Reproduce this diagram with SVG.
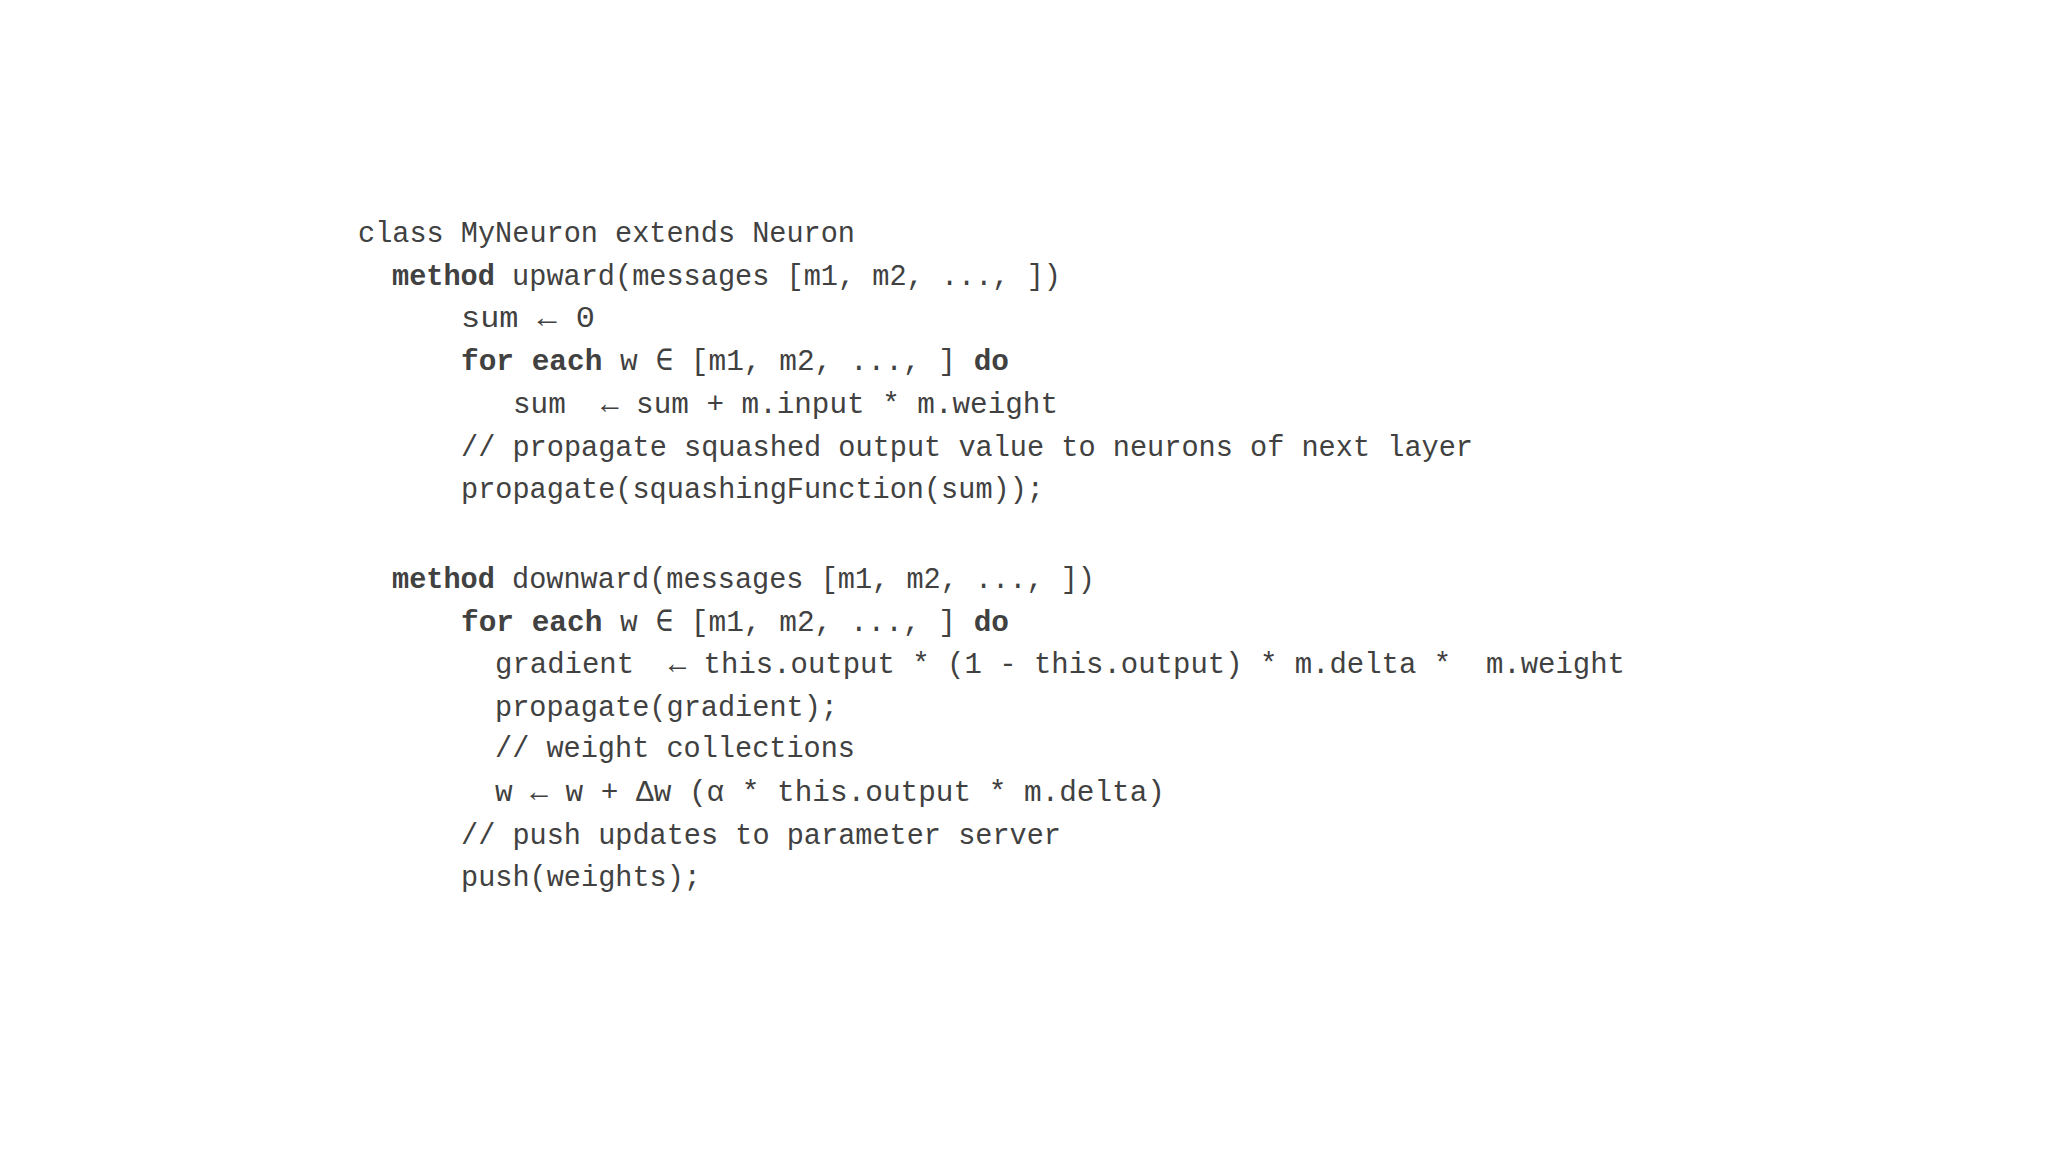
<svg xmlns="http://www.w3.org/2000/svg" width="2048" height="1152" viewBox="0 0 2048 1152">
<style>
text{font-family:"Liberation Mono","DejaVu Sans Mono",monospace;font-size:30px;fill:#414141;white-space:pre}
.b{font-weight:bold}
</style>
<rect width="2048" height="1152" fill="#fff"/>
<g id="code" xml:space="preserve">
<text x="358" y="242" textLength="497" lengthAdjust="spacingAndGlyphs">class MyNeuron extends Neuron</text>
<text x="392" y="285" textLength="669" lengthAdjust="spacingAndGlyphs"><tspan class="b">method</tspan> upward(messages [m1, m2, ..., ])</text>
<text x="461" y="327" textLength="134" lengthAdjust="spacingAndGlyphs">sum ← 0</text>
<text x="461" y="370" textLength="548" lengthAdjust="spacingAndGlyphs"><tspan class="b">for each</tspan> w ∈ [m1, m2, ..., ] <tspan class="b">do</tspan></text>
<text x="513" y="413" textLength="545" lengthAdjust="spacingAndGlyphs">sum  ← sum + m.input * m.weight</text>
<text x="461" y="456" textLength="1012" lengthAdjust="spacingAndGlyphs">// propagate squashed output value to neurons of next layer</text>
<text x="461" y="498" textLength="583" lengthAdjust="spacingAndGlyphs">propagate(squashingFunction(sum));</text>
<text x="392" y="588" textLength="703" lengthAdjust="spacingAndGlyphs"><tspan class="b">method</tspan> downward(messages [m1, m2, ..., ])</text>
<text x="461" y="631" textLength="548" lengthAdjust="spacingAndGlyphs"><tspan class="b">for each</tspan> w ∈ [m1, m2, ..., ] <tspan class="b">do</tspan></text>
<text x="495" y="673" textLength="1130" lengthAdjust="spacingAndGlyphs">gradient  ← this.output * (1 - this.output) * m.delta *  m.weight</text>
<text x="495" y="716" textLength="343" lengthAdjust="spacingAndGlyphs">propagate(gradient);</text>
<text x="495" y="757" textLength="360" lengthAdjust="spacingAndGlyphs">// weight collections</text>
<text x="495" y="801" textLength="670" lengthAdjust="spacingAndGlyphs">w ← w + Δw (α * this.output * m.delta)</text>
<text x="461" y="844" textLength="600" lengthAdjust="spacingAndGlyphs">// push updates to parameter server</text>
<text x="461" y="886" textLength="240" lengthAdjust="spacingAndGlyphs">push(weights);</text>
</g>
</svg>
